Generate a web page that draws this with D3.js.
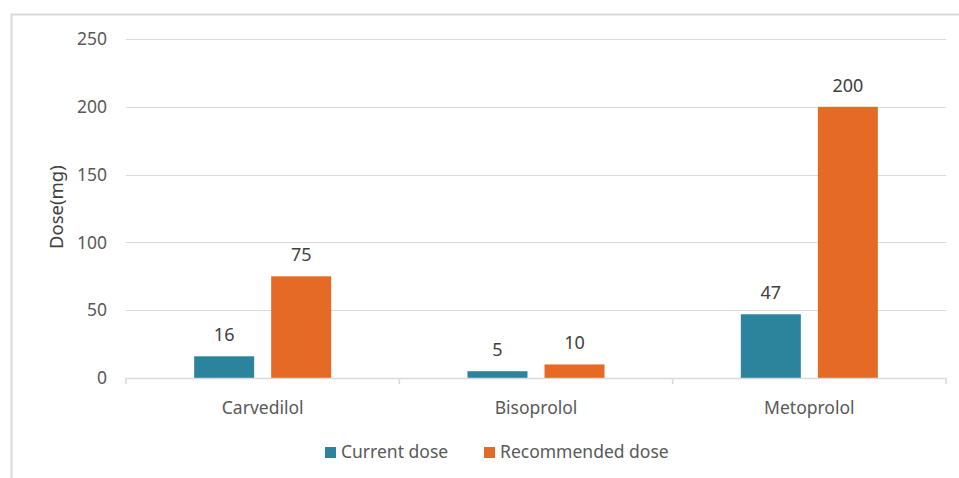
<!DOCTYPE html>
<html>
<head>
<meta charset="utf-8">
<script src="https://cdn.jsdelivr.net/npm/d3@7"></script>
<style>
  body { margin: 0; background: #fff; }
  text { font-family: "Noto Sans", "Open Sans", sans-serif; }
</style>
</head>
<body>
<script>
const drugs = ["Carvedilol", "Bisoprolol", "Metoprolol"];
const seriesNames = ["Current dose", "Recommended dose"];
const currentDose = [16, 5, 47];
const recommendedDose = [75, 10, 200];
const yTicks = [0, 50, 100, 150, 200, 250];
const colors = ["#2b849b", "#e56a26"];

const width = 959, height = 478;
const svg = d3.create("svg").attr("width", width).attr("height", height);

// frame around the chart
svg.append("path")
  .attr("d", "M11.5,478 V14.5 H959")
  .attr("fill", "none")
  .attr("stroke", "#d9d9d9")
  .attr("stroke-width", 2);

const x = d3.scaleBand(drugs, [126, 946]);
const xs = d3.scaleBand([0, 1], [0, x.bandwidth()]).paddingInner(0.221).paddingOuter(0.885);
const y = d3.scaleLinear([0, 250], [378, 39]);

// gridlines
svg.append("g")
  .selectAll("line")
  .data(yTicks.filter(d => d > 0))
  .join("line")
  .attr("x1", 126).attr("x2", 946)
  .attr("y1", d => Math.round(y(d)) + 0.5).attr("y2", d => Math.round(y(d)) + 0.5)
  .attr("stroke", "#d9d9d9");

// y tick labels
svg.append("g")
  .selectAll("text")
  .data(yTicks)
  .join("text")
  .attr("x", 107)
  .attr("y", d => y(d))
  .attr("dy", "0.35em")
  .attr("text-anchor", "end")
  .attr("font-size", 17.5)
  .attr("fill", "#595959")
  .text(d => d);

// y title
svg.append("text")
  .attr("transform", `translate(63,${y(126)}) rotate(-90)`)
  .attr("text-anchor", "middle")
  .attr("font-size", 18.5)
  .attr("fill", "#404040")
  .text("Dose(mg)");

const series = [currentDose, recommendedDose];
const groups = svg.append("g")
  .selectAll("g")
  .data(drugs)
  .join("g")
  .attr("transform", d => `translate(${x(d)},0)`);

groups.selectAll("rect")
  .data((d, i) => series.map((s, k) => ({ k, v: s[i] })))
  .join("rect")
  .attr("x", d => xs(d.k))
  .attr("width", xs.bandwidth())
  .attr("y", d => y(d.v))
  .attr("height", d => y(0) - y(d.v))
  .attr("fill", d => colors[d.k]);

groups.selectAll("text.val")
  .data((d, i) => series.map((s, k) => ({ k, v: s[i] })))
  .join("text")
  .attr("class", "val")
  .attr("x", d => xs(d.k) + xs.bandwidth() / 2)
  .attr("y", d => y(d.v) - 15)
  .attr("text-anchor", "middle")
  .attr("font-size", 18)
  .attr("fill", "#404040")
  .text(d => d.v);

// x axis line and ticks
const axis = svg.append("g").attr("stroke", "#d9d9d9").attr("stroke-width", 1.5);
axis.append("line").attr("x1", 126).attr("x2", 946).attr("y1", 378.5).attr("y2", 378.5);
axis.selectAll("line.tick")
  .data([...drugs.map(d => x(d)), 946])
  .join("line")
  .attr("class", "tick")
  .attr("x1", d => d).attr("x2", d => d)
  .attr("y1", 378).attr("y2", 384);

svg.append("g")
  .selectAll("text")
  .data(drugs)
  .join("text")
  .attr("x", d => x(d) + x.bandwidth() / 2)
  .attr("y", 408)
  .attr("dy", "0.35em")
  .attr("text-anchor", "middle")
  .attr("font-size", 17.5)
  .attr("fill", "#595959")
  .text(d => d);

// legend
const legendX = [325, 484];
const leg = svg.append("g")
  .selectAll("g")
  .data(seriesNames)
  .join("g")
  .attr("transform", (d, i) => `translate(${legendX[i]},452)`);
leg.append("rect").attr("x", 0).attr("y", -5).attr("width", 11).attr("height", 11)
  .attr("fill", (d, i) => colors[i]);
leg.append("text").attr("x", 16).attr("dy", "0.35em")
  .attr("font-size", 17.5).attr("fill", "#595959")
  .text(d => d);

document.body.appendChild(svg.node());
</script>
</body>
</html>
